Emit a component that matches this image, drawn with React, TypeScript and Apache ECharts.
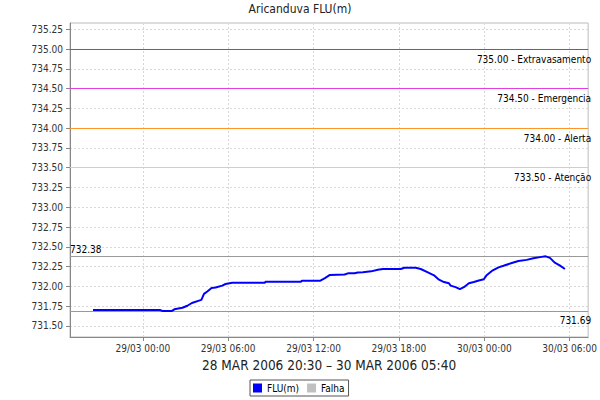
import React, { useEffect, useRef } from "react";
import * as echarts from "echarts";

const chartTitle = "Aricanduva FLU(m)";
const axisTitle = "28 MAR 2006 20:30 – 30 MAR 2006 05:40";
const seriesNames = ["FLU(m)", "Falha"];

const times = [
  "2006-03-28 20:30", "2006-03-29 01:14", "2006-03-29 01:22", "2006-03-29 02:03",
  "2006-03-29 02:13", "2006-03-29 02:47", "2006-03-29 03:08", "2006-03-29 03:27",
  "2006-03-29 03:57", "2006-03-29 04:07", "2006-03-29 04:18", "2006-03-29 04:32",
  "2006-03-29 04:50", "2006-03-29 05:07", "2006-03-29 05:35", "2006-03-29 05:49",
  "2006-03-29 06:17", "2006-03-29 08:34", "2006-03-29 08:38", "2006-03-29 11:07",
  "2006-03-29 11:11", "2006-03-29 12:27", "2006-03-29 12:48", "2006-03-29 13:09",
  "2006-03-29 14:11", "2006-03-29 14:25", "2006-03-29 14:53", "2006-03-29 15:07",
  "2006-03-29 15:28", "2006-03-29 16:03", "2006-03-29 16:31", "2006-03-29 16:52",
  "2006-03-29 18:08", "2006-03-29 18:23", "2006-03-29 19:11", "2006-03-29 19:32",
  "2006-03-29 20:00", "2006-03-29 20:28", "2006-03-29 20:49", "2006-03-29 21:10",
  "2006-03-29 21:31", "2006-03-29 21:38", "2006-03-29 21:59", "2006-03-29 22:17",
  "2006-03-29 22:34", "2006-03-29 22:55", "2006-03-29 23:16", "2006-03-29 23:37",
  "2006-03-29 23:58", "2006-03-30 00:11", "2006-03-30 00:32", "2006-03-30 01:00",
  "2006-03-30 01:21", "2006-03-30 01:56", "2006-03-30 02:24", "2006-03-30 02:59",
  "2006-03-30 03:27", "2006-03-30 03:55", "2006-03-30 04:19", "2006-03-30 04:37",
  "2006-03-30 04:57", "2006-03-30 05:18", "2006-03-30 05:40",
];

const fluValues = [
  731.70, 731.70, 731.69, 731.69,
  731.71, 731.73, 731.755, 731.79,
  731.82, 731.83, 731.905, 731.935,
  731.98, 731.985, 732.01, 732.03,
  732.045, 732.045, 732.06, 732.06,
  732.07, 732.07, 732.105, 732.145,
  732.15, 732.165, 732.165, 732.175,
  732.18, 732.19, 732.21, 732.22,
  732.22, 732.235, 732.235, 732.22,
  732.18, 732.14, 732.085, 732.055,
  732.04, 732.01, 731.99, 731.965,
  731.99, 732.04, 732.055, 732.075,
  732.09, 732.145, 732.195, 732.24,
  732.26, 732.295, 732.32, 732.335,
  732.355, 732.37, 732.38, 732.36,
  732.30, 732.265, 732.22,
];

const falhaValues: [number, number][] = [];

const thresholdValues = [735.0, 734.5, 734.0, 733.5];
const thresholdNames = ["Extravasamento", "Emergencia", "Alerta", "Atenção"];

const yTicks = [
  731.5, 731.75, 732.0, 732.25, 732.5, 732.75, 733.0, 733.25,
  733.5, 733.75, 734.0, 734.25, 734.5, 734.75, 735.0, 735.25,
];
const xTickTimes = [
  "2006-03-29 00:00", "2006-03-29 06:00", "2006-03-29 12:00",
  "2006-03-29 18:00", "2006-03-30 00:00", "2006-03-30 06:00",
];
const xMinTime = "2006-03-28 18:53";
const xMaxTime = "2006-03-30 07:18";
const yMin = 731.36;
const yMax = 735.33;

function parseTime(s: string): number {
  const [d, t] = s.split(" ");
  const [Y, M, D] = d.split("-").map(Number);
  const [h, m] = t.split(":").map(Number);
  return Date.UTC(Y, M - 1, D, h, m);
}

function pad(n: number): string {
  return n < 10 ? "0" + n : String(n);
}

function fmtTime(v: number): string {
  const dt = new Date(v);
  return (
    pad(dt.getUTCDate()) + "/" + pad(dt.getUTCMonth() + 1) + " " +
    pad(dt.getUTCHours()) + ":" + pad(dt.getUTCMinutes())
  );
}

const FONT = "'DejaVu Sans Condensed', 'Liberation Sans', sans-serif";

export default function App() {
  const ref = useRef<HTMLDivElement>(null);

  useEffect(() => {
    if (!ref.current) return;
    const chart = echarts.init(ref.current, undefined, { renderer: "svg" });

    const fluData = times.map((t, i) => [parseTime(t), fluValues[i]]);
    const maxV = Math.max(...fluValues);
    const minV = Math.min(...fluValues);
    const thresholdColors = ["#e03434", "#e040e0", "#ff9526", "#ffdd00"];

    const labelBase = {
      fontFamily: FONT,
      fontSize: 10,
      color: "#000",
    };

    const markData: any[] = thresholdValues.map((v, i) => ({
      yAxis: v,
      lineStyle: { color: thresholdColors[i], width: 1.2, type: "solid" },
      label: {
        ...labelBase,
        show: true,
        position: "insideEndBottom",
        distance: [-3, 5],
        formatter: v.toFixed(2) + " - " + thresholdNames[i],
      },
    }));
    markData.push({
      yAxis: maxV,
      lineStyle: { color: "#999", width: 1, type: "solid" },
      label: {
        ...labelBase,
        show: true,
        position: "insideStartTop",
        distance: [0, 2],
        formatter: maxV.toFixed(2),
      },
    });
    markData.push({
      yAxis: minV,
      lineStyle: { color: "#999", width: 1, type: "solid" },
      label: {
        ...labelBase,
        show: true,
        position: "insideEndBottom",
        distance: [-3, 5],
        formatter: minV.toFixed(2),
      },
    });

    chart.setOption({
      animation: false,
      backgroundColor: "#fff",
      textStyle: { fontFamily: FONT },
      title: {
        text: chartTitle,
        left: "center",
        top: 3,
        padding: 0,
        textStyle: { fontFamily: FONT, fontSize: 12, fontWeight: "normal", color: "#222" },
      },
      grid: {
        left: 70,
        right: 8,
        top: 23,
        bottom: 63,
        show: true,
        borderColor: "#bbb",
        borderWidth: 1,
        backgroundColor: "#fff",
      },
      legend: {
        left: 250,
        top: 380,
        orient: "horizontal",
        icon: "rect",
        itemWidth: 9,
        itemHeight: 9,
        itemGap: 8,
        padding: [3, 4, 3, 3],
        borderColor: "#555",
        borderWidth: 1,
        borderRadius: 0,
        textStyle: { fontFamily: FONT, fontSize: 10, color: "#000" },
        data: seriesNames,
      },
      xAxis: {
        type: "value",
        min: parseTime(xMinTime),
        max: parseTime(xMaxTime),
        name: axisTitle,
        nameLocation: "middle",
        nameGap: 19,
        nameTextStyle: { fontFamily: FONT, fontSize: 13.5, color: "#222" },
        axisLine: { show: true, onZero: false, lineStyle: { color: "#888" } },
        axisTick: {
          show: true,
          length: 4,
          lineStyle: { color: "#888" },
          customValues: xTickTimes.map(parseTime),
        },
        axisLabel: {
          fontFamily: FONT,
          fontSize: 10,
          color: "#333",
          margin: 6,
          customValues: xTickTimes.map(parseTime),
          formatter: (v: number) => fmtTime(v),
        },
        splitLine: {
          show: true,
          lineStyle: { color: "#d8d8d8", type: [2, 2], width: 1 },
        },
      },
      yAxis: {
        type: "value",
        min: yMin,
        max: yMax,
        axisLine: { show: true, lineStyle: { color: "#888" } },
        axisTick: {
          show: true,
          length: 4,
          lineStyle: { color: "#888" },
          customValues: yTicks,
        },
        axisLabel: {
          fontFamily: FONT,
          fontSize: 10,
          color: "#333",
          margin: 7,
          customValues: yTicks,
          formatter: (v: number) => v.toFixed(2),
        },
        splitLine: {
          show: true,
          lineStyle: { color: "#d8d8d8", type: [2, 2], width: 1 },
        },
      },
      series: [
        {
          name: seriesNames[0],
          type: "line",
          data: fluData,
          showSymbol: false,
          color: "#0000ff",
          itemStyle: { color: "#0000ff" },
          lineStyle: { color: "#0000ff", width: 2 },
          z: 3,
          markLine: {
            silent: true,
            symbol: ["none", "none"],
            z: 2,
            data: markData,
          },
        },
        {
          name: seriesNames[1],
          type: "line",
          data: falhaValues,
          showSymbol: false,
          color: "#c0c0c0",
          itemStyle: { color: "#c0c0c0" },
          lineStyle: { color: "#c0c0c0", width: 2 },
        },
      ],
    });

    return () => chart.dispose();
  }, []);

  return (
    <div
      ref={ref}
      style={{ position: "fixed", left: 0, top: 0, width: 600, height: 400 }}
    />
  );
}
